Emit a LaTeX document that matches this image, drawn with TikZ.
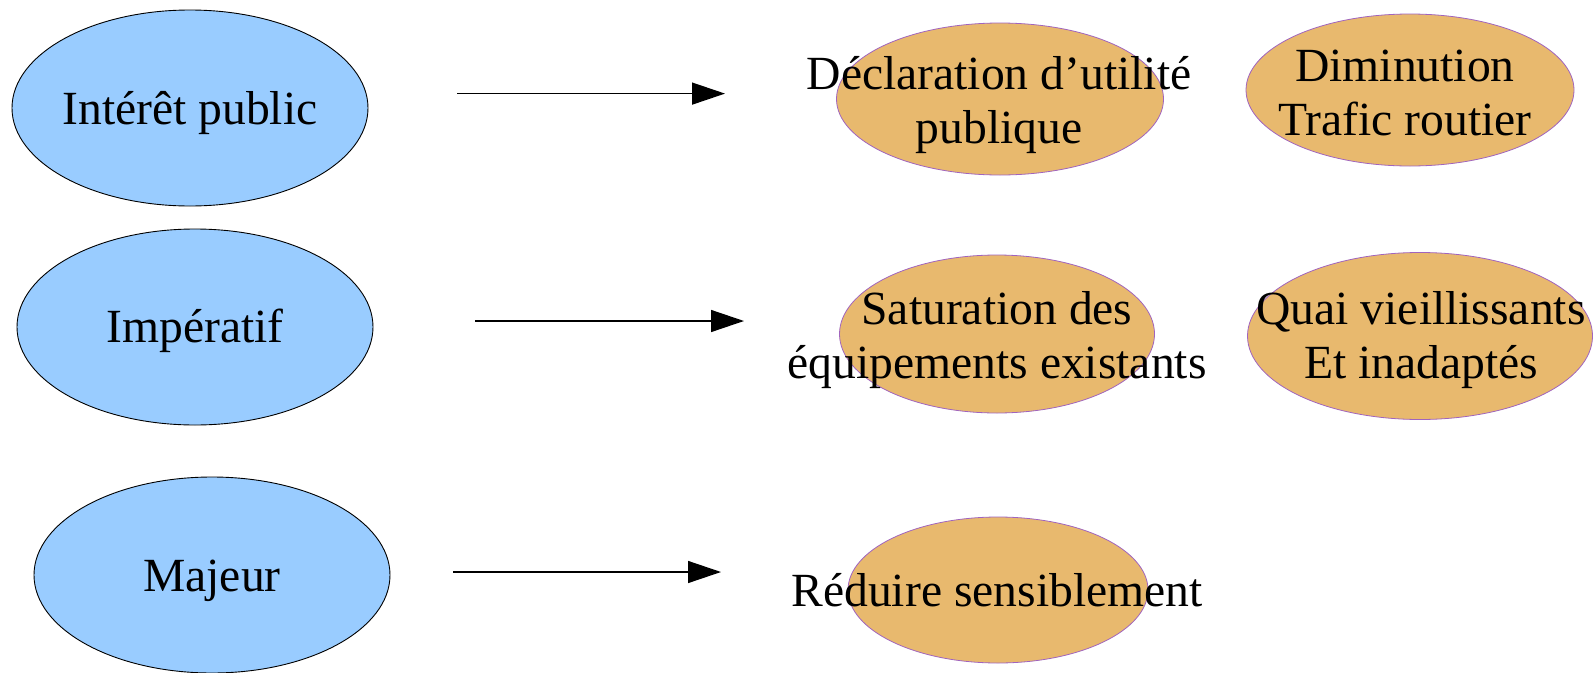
\documentclass[tikz,border=0pt]{standalone}
\usepackage{fontspec}
\setmainfont{Liberation Serif}
\usetikzlibrary{shapes.geometric,arrows.meta}
\definecolor{bluefill}{RGB}{153,204,255}
\definecolor{orangefill}{RGB}{232,185,110}
\definecolor{orangeedge}{RGB}{160,100,190}
\tikzset{
  blueell/.style={ellipse,draw=black,line width=0.9pt,fill=bluefill,inner sep=0pt,minimum width=356pt,minimum height=196pt},
  orangeell/.style={ellipse,draw=orangeedge,line width=0.8pt,fill=orangefill,inner sep=0pt},
  txt/.style={align=center,inner sep=0pt,font=\fontsize{47.6}{54}\selectfont},
  arr/.style={line width=1.4pt,-{Triangle[length=33pt,width=22pt]}}
}
\begin{document}
\begin{tikzpicture}[x=1pt,y=-1pt]
\useasboundingbox (0,0) rectangle (1595,672);
% blue ellipses
\node[blueell] (b1) at (190,108) {};
\node[blueell] (b2) at (195,327) {};
\node[blueell] (b3) at (212,575) {};
\node[txt] (tb1) at (190,113) {Intérêt public};
\node[txt] (tb2) at (195,331) {Impératif};
\node[txt] (tb3) at (212,581) {Majeur};
% orange ellipses
\node[orangeell,minimum width=327pt,minimum height=152pt] (o1) at (1000,99) {};
\node[orangeell,minimum width=328pt,minimum height=152pt] (o2) at (1410,90) {};
\node[orangeell,minimum width=315pt,minimum height=158pt] (o3) at (997,334) {};
\node[orangeell,minimum width=345pt,minimum height=167pt] (o4) at (1420,336) {};
\node[orangeell,minimum width=300pt,minimum height=146pt] (o5) at (998,590) {};
\node[txt] (to1) at (999,105) {Déclaration d’utilité\\publique};
\node[txt] (to2) at (1405,93) {Diminution\\Trafic routier};
\node[txt] (to3) at (997,340) {Saturation des\\équipements existants};
\node[txt] (to4) at (1421,340) {Quai vieillissants\\Et inadaptés};
\node[txt] (to5) at (997,590) {Réduire sensiblement};
% arrows
\coordinate (a1s) at (457,93.6);
\coordinate (a1e) at (725,93.6);
\coordinate (a2s) at (475,321);
\coordinate (a2e) at (744,321);
\coordinate (a3s) at (453,572);
\coordinate (a3e) at (721,572);
\draw[arr] (a1s) -- (a1e);
\draw[arr] (a2s) -- (a2e);
\draw[arr] (a3s) -- (a3e);
\end{tikzpicture}
\end{document}
